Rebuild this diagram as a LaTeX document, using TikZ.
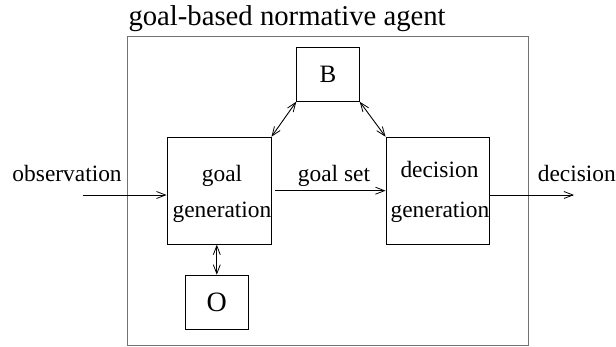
\documentclass[tikz,border=0pt]{standalone}
\usepackage{fontspec}
\setmainfont{Liberation Serif}
\usetikzlibrary{arrows.meta}
\tikzset{
  modbox/.style={draw, line width=0.9pt, inner sep=0pt, align=center},
  flow/.style={line width=0.9pt, -{Straight Barb[length=9pt,width=7pt,line width=0.8pt]}},
  link/.style={line width=0.9pt, {Straight Barb[length=9pt,width=7pt,line width=0.8pt]}-{Straight Barb[length=9pt,width=7pt,line width=0.8pt]}},
  lbl/.style={inner sep=0pt, anchor=base west, font=\fontsize{23.4}{28}\selectfont},
  boxtxt/.style={inner sep=0pt, anchor=base, font=\fontsize{23.4}{28}\selectfont}
}
\begin{document}
\begin{tikzpicture}[x=1pt,y=-1pt]
     \useasboundingbox (0,0) rectangle (616,347);
     \node[draw=black!55, line width=1.2pt, minimum width=401pt, minimum height=309pt, inner sep=0pt] (agent) at (328.2,190.7) {};
     \node[inner sep=0pt, anchor=base west, font=\fontsize{28.7}{34}\selectfont] (title) at (128.3,26) {goal-based normative agent};
     \node[modbox, minimum width=104pt, minimum height=107pt] (goalgen) at (219,190.7) {};
     \node[boxtxt] (goaltxt) at (222,182) {goal};
     \node[boxtxt] (goalgentxt) at (222,218) {generation};
     \node[modbox, minimum width=103pt, minimum height=107pt] (decgen) at (437.5,190.7) {};
     \node[boxtxt] (dectxt) at (439.5,178) {decision};
     \node[boxtxt] (decgentxt) at (440,218) {generation};
     \node[modbox, minimum width=62.6pt, minimum height=54pt, font=\fontsize{25}{30}\selectfont] (B) at (328,74.3) {B};
     \node[modbox, minimum width=62.6pt, minimum height=54pt, font=\fontsize{28}{32}\selectfont] (O) at (216.8,302.2) {O};
     \coordinate (obsin) at (82.7,195);
     \coordinate (decout) at (574,195);
     \node[lbl] (obslbl) at (12.3,181.7) {observation};
     \node[lbl] (setlbl) at (297.7,181.7) {goal set};
     \node[lbl] (declbl) at (537.7,181.7) {decision};
     \draw[flow] (obsin) -- (obsin -| goalgen.west);
     \draw[flow] ([xshift=4pt]goalgen.east) -- (decgen.west);
     \draw[flow] (decgen.east |- decout) -- (decout);
     \draw[link] (B.south west) -- (goalgen.north east);
     \draw[link] (B.south east) -- (decgen.north west);
     \draw[link] (O.north |- goalgen.south) -- (O.north);
    \end{tikzpicture}
\end{document}
